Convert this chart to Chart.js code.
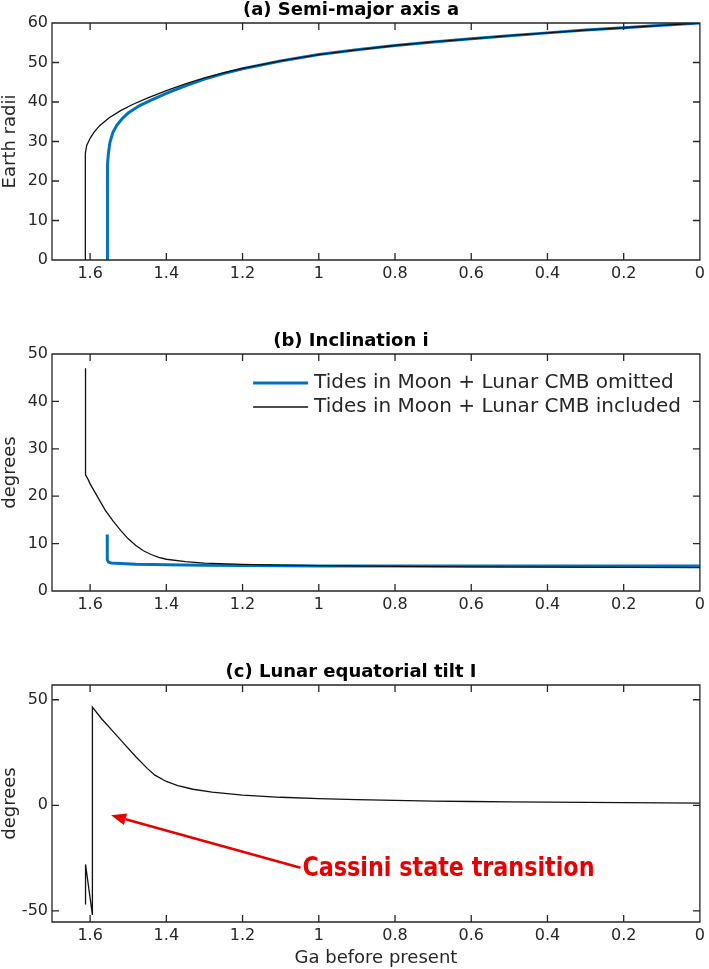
<!DOCTYPE html>
<html lang="en">
<head>
<meta charset="UTF-8">
<title>Lunar orbital evolution</title>
<script src="https://cdn.jsdelivr.net/npm/chart.js"></script>
<style>
  body { margin: 0; background: #fff; }
  #wrap { position: relative; width: 709px; height: 969px; }
  canvas { position: absolute; left: 0; }
</style>
</head>
<body>
<div id="wrap">
  <canvas id="panelA" width="709" height="296" style="top:0px"></canvas>
  <canvas id="panelB" width="709" height="307" style="top:320px"></canvas>
  <canvas id="panelC" width="709" height="319" style="top:650px"></canvas>
</div>
<script>
// x axis: Ga before present (shared by all three panels)
const gaTicks = [1.6, 1.4, 1.2, 1, 0.8, 0.6, 0.4, 0.2, 0];

// (a) semi-major axis, Earth radii
const semiOmittedGa = [1.555, 1.555, 1.554, 1.552, 1.548, 1.54, 1.53, 1.515, 1.5, 1.47, 1.44, 1.4, 1.35, 1.3, 1.25, 1.2, 1.1, 1.0, 0.9, 0.8, 0.7, 0.6, 0.5, 0.4, 0.3, 0.2, 0.1, 0];
const semiOmittedA  = [0, 20, 24, 27, 29.8, 32.3, 34.1, 35.9, 37.2, 39.1, 40.5, 42.2, 44.1, 45.8, 47.2, 48.4, 50.4, 52.0, 53.2, 54.3, 55.2, 56.0, 56.8, 57.5, 58.2, 58.8, 59.4, 60];
const semiIncludedGa = [1.613, 1.613, 1.612, 1.609, 1.6, 1.59, 1.575, 1.55, 1.52, 1.49, 1.45, 1.4, 1.35, 1.3, 1.25, 1.2, 1.1, 1.0, 0.9, 0.8, 0.7, 0.6, 0.5, 0.4, 0.3, 0.2, 0.1, 0];
const semiIncludedA  = [0, 24, 27, 29, 30.8, 32.3, 34, 36, 37.8, 39.3, 41, 42.9, 44.6, 46.1, 47.4, 48.5, 50.4, 52.0, 53.2, 54.3, 55.2, 56.0, 56.8, 57.5, 58.2, 58.8, 59.4, 60];
const semiTicks = [0, 10, 20, 30, 40, 50, 60];

// (b) inclination, degrees
const inclOmittedGa  = [1.555, 1.555, 1.552, 1.545, 1.52, 1.48, 1.4, 1.3, 1.2, 1.0, 0.6, 0.3, 0];
const inclOmittedDeg = [11.9, 6.6, 6.1, 5.9, 5.8, 5.65, 5.55, 5.45, 5.4, 5.3, 5.3, 5.3, 5.3];
const inclIncludedGa  = [1.612, 1.612, 1.605, 1.6, 1.58, 1.56, 1.54, 1.52, 1.5, 1.48, 1.46, 1.44, 1.42, 1.4, 1.35, 1.3, 1.2, 1.1, 1.0, 0.8, 0.6, 0.4, 0.2, 0];
const inclIncludedDeg = [47, 24.5, 23.5, 22.6, 19.8, 17, 14.8, 12.8, 11.0, 9.6, 8.5, 7.7, 7.1, 6.7, 6.2, 5.9, 5.6, 5.45, 5.35, 5.2, 5.1, 5.05, 5.0, 4.95];
const inclTicks = [0, 10, 20, 30, 40, 50];

// (c) lunar equatorial tilt, degrees
const tiltGa  = [1.612, 1.612, 1.594, 1.594, 1.57, 1.54, 1.51, 1.48, 1.45, 1.43, 1.4, 1.37, 1.33, 1.28, 1.2, 1.1, 1.0, 0.9, 0.8, 0.7, 0.6, 0.5, 0.4, 0.3, 0.2, 0.1, 0];
const tiltDeg = [-47, -28, -52, 46.5, 41, 35, 29, 23, 17.5, 14.3, 11.3, 9.3, 7.6, 6.2, 4.8, 3.8, 3.2, 2.7, 2.3, 2.0, 1.8, 1.6, 1.5, 1.35, 1.25, 1.15, 1.05];
const tiltTicks = [-50, 0, 50];

// annotation in panel (c), data coordinates
const arrowTail = { x: 1.048, y: -29.6 };
const arrowHead = { x: 1.545, y: -4.7 };
const noteText = 'Cassini state transition';
const noteWidth = 292;

const BLUE = '#0072BD';
const BLACK = '#111111';
const AXIS = '#262626';

Chart.defaults.font.family = "'DejaVu Sans', sans-serif";
Chart.defaults.font.size = 16;
Chart.defaults.color = AXIS;

function pts(xs, ys) {
  return xs.map((x, i) => ({ x: x, y: ys[i] }));
}

// Matlab style box with inward ticks on all four sides
const boxTicks = {
  id: 'boxTicks',
  afterDatasetsDraw(chart) {
    const { ctx, chartArea: a } = chart;
    const xs = chart.scales.x, ys = chart.scales.y;
    const len = 7;
    ctx.save();
    ctx.strokeStyle = AXIS;
    ctx.lineWidth = 1.3;
    ctx.beginPath();
    xs.ticks.forEach(t => {
      const px = xs.getPixelForValue(t.value);
      ctx.moveTo(px, a.bottom); ctx.lineTo(px, a.bottom - len);
      ctx.moveTo(px, a.top); ctx.lineTo(px, a.top + len);
    });
    ys.ticks.forEach(t => {
      const py = ys.getPixelForValue(t.value);
      ctx.moveTo(a.left, py); ctx.lineTo(a.left + len, py);
      ctx.moveTo(a.right, py); ctx.lineTo(a.right - len, py);
    });
    ctx.rect(a.left, a.top, a.right - a.left, a.bottom - a.top);
    ctx.stroke();
    ctx.restore();
  }
};

// legend inside the top right of panel (b)
const lineLegend = {
  id: 'lineLegend',
  afterDraw(chart) {
    const { ctx, chartArea: a } = chart;
    const sets = chart.data.datasets;
    ctx.save();
    ctx.font = "20px 'DejaVu Sans', sans-serif";
    ctx.textBaseline = 'middle';
    ctx.fillStyle = AXIS;
    const w = Math.max(...sets.map(d => ctx.measureText(d.label).width));
    const tx = a.right - 19 - w;
    sets.forEach((d, i) => {
      const ty = a.top + 29 + i * 24;
      ctx.strokeStyle = d.borderColor;
      ctx.lineWidth = d.borderWidth;
      ctx.beginPath();
      ctx.moveTo(tx - 61, ty); ctx.lineTo(tx - 6, ty);
      ctx.stroke();
      ctx.fillText(d.label, tx, ty);
    });
    ctx.restore();
  }
};

// red arrow and note in panel (c)
const cassiniNote = {
  id: 'cassiniNote',
  afterDraw(chart) {
    const { ctx } = chart;
    const xs = chart.scales.x, ys = chart.scales.y;
    const x0 = xs.getPixelForValue(arrowTail.x), y0 = ys.getPixelForValue(arrowTail.y);
    const x1 = xs.getPixelForValue(arrowHead.x), y1 = ys.getPixelForValue(arrowHead.y);
    const ang = Math.atan2(y1 - y0, x1 - x0);
    const hl = 15, hw = 6;
    ctx.save();
    ctx.strokeStyle = '#e60000';
    ctx.fillStyle = '#e60000';
    ctx.lineWidth = 2.5;
    ctx.beginPath();
    ctx.moveTo(x0, y0);
    ctx.lineTo(x1 - hl * Math.cos(ang), y1 - hl * Math.sin(ang));
    ctx.stroke();
    ctx.beginPath();
    ctx.moveTo(x1, y1);
    ctx.lineTo(x1 - hl * Math.cos(ang) + hw * Math.sin(ang), y1 - hl * Math.sin(ang) - hw * Math.cos(ang));
    ctx.lineTo(x1 - hl * Math.cos(ang) - hw * Math.sin(ang), y1 - hl * Math.sin(ang) + hw * Math.cos(ang));
    ctx.closePath();
    ctx.fill();
    ctx.font = "bold 27px 'Liberation Sans Narrow', 'DejaVu Sans Condensed', sans-serif";
    ctx.textBaseline = 'middle';
    const tw = ctx.measureText(noteText).width;
    ctx.translate(x0 + 2, y0 + 1);
    ctx.scale(Math.min(1, noteWidth / tw), 1);
    ctx.fillText(noteText, 0, 0);
    ctx.restore();
  }
};

function makePanel(id, cfg) {
  return new Chart(document.getElementById(id), {
    type: 'scatter',
    data: { datasets: cfg.datasets },
    options: {
      responsive: false,
      animation: false,
      layout: { padding: { left: 0, right: 7, top: 0, bottom: 0 } },
      elements: { point: { radius: 0 }, line: { tension: 0 } },
      plugins: {
        legend: { display: false },
        tooltip: { enabled: false },
        title: {
          display: true,
          text: cfg.title,
          color: '#000',
          font: { size: 18, weight: 'bold' },
          padding: cfg.titlePad
        }
      },
      scales: {
        x: {
          type: 'linear',
          reverse: true,
          min: 0,
          max: 1.7,
          grid: { display: false, drawTicks: false },
          border: { display: false },
          afterBuildTicks: s => { s.ticks = gaTicks.map(v => ({ value: v })); },
          afterFit: s => { s.height = cfg.xHeight; },
          ticks: { padding: 4, maxRotation: 0, autoSkip: false, callback: v => String(+v.toFixed(2)) },
          title: cfg.xTitle
            ? { display: true, text: cfg.xTitle, font: { size: 18 }, padding: { top: 0, bottom: 0 } }
            : { display: false }
        },
        y: {
          min: cfg.yMin,
          max: cfg.yMax,
          grid: { display: false, drawTicks: false },
          border: { display: false },
          afterBuildTicks: s => { s.ticks = cfg.yTicks.map(v => ({ value: v })); },
          afterFit: s => { s.width = 52; },
          ticks: { padding: 4, autoSkip: false },
          title: { display: true, text: cfg.yTitle, font: { size: 18 }, padding: { top: 0, bottom: 0 } }
        }
      }
    },
    plugins: [boxTicks].concat(cfg.extra || [])
  });
}

makePanel('panelA', {
  title: '(a) Semi-major axis a',
  titlePad: { top: 0, bottom: 1.4 },
  xHeight: 36,
  yMin: 0, yMax: 60, yTicks: semiTicks,
  yTitle: 'Earth radii',
  datasets: [
    { label: 'Tides in Moon + Lunar CMB omitted', data: pts(semiOmittedGa, semiOmittedA), showLine: true, borderColor: BLUE, borderWidth: 3, order: 2 },
    { label: 'Tides in Moon + Lunar CMB included', data: pts(semiIncludedGa, semiIncludedA), showLine: true, borderColor: BLACK, borderWidth: 1.3, order: 1 }
  ]
});

makePanel('panelB', {
  title: '(b) Inclination i',
  titlePad: { top: 10.7, bottom: 1.7 },
  xHeight: 36,
  yMin: 0, yMax: 50, yTicks: inclTicks,
  yTitle: 'degrees',
  extra: [lineLegend],
  datasets: [
    { label: 'Tides in Moon + Lunar CMB omitted', data: pts(inclOmittedGa, inclOmittedDeg), showLine: true, borderColor: BLUE, borderWidth: 3, order: 2 },
    { label: 'Tides in Moon + Lunar CMB included', data: pts(inclIncludedGa, inclIncludedDeg), showLine: true, borderColor: BLACK, borderWidth: 1.3, order: 1 }
  ]
});

makePanel('panelC', {
  title: '(c) Lunar equatorial tilt I',
  titlePad: { top: 11.7, bottom: 1.7 },
  xHeight: 47,
  xTitle: 'Ga before present',
  yMin: -55.3, yMax: 57, yTicks: tiltTicks,
  yTitle: 'degrees',
  extra: [cassiniNote],
  datasets: [
    { label: 'Tides in Moon + Lunar CMB included', data: pts(tiltGa, tiltDeg), showLine: true, borderColor: BLACK, borderWidth: 1.3 }
  ]
});
</script>
</body>
</html>
